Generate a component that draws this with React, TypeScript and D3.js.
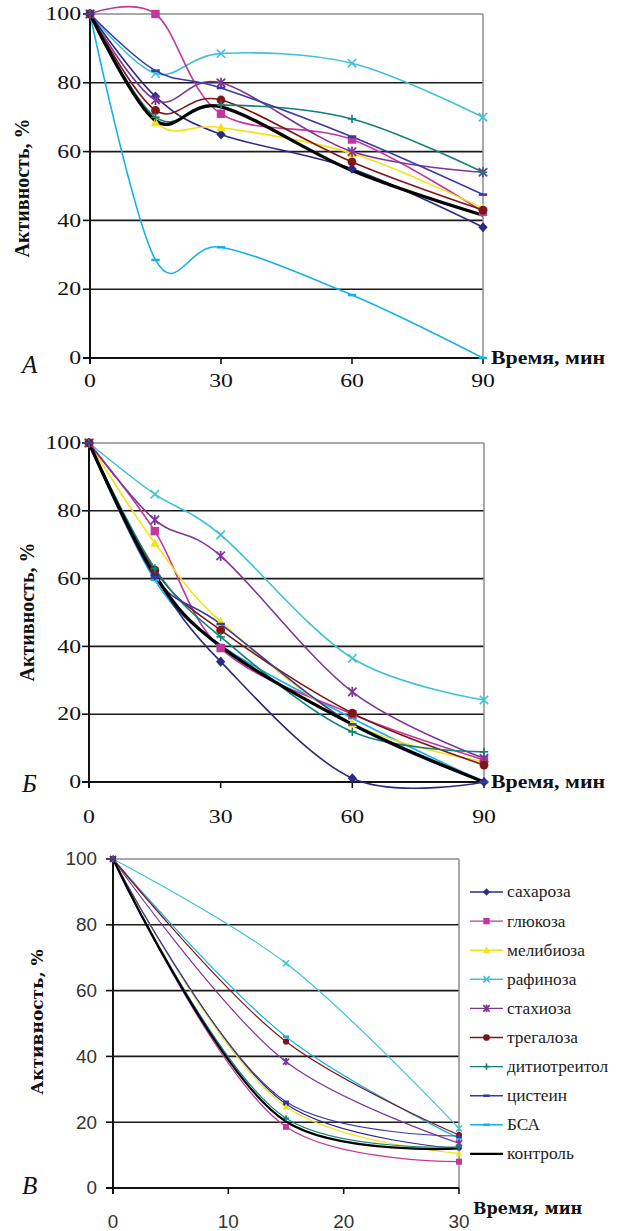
import React from 'react';
import * as d3 from 'd3';

// ---------- data ----------
const seriesNames = ['сахароза', 'глюкоза', 'мелибиоза', 'рафиноза', 'стахиоза', 'трегалоза', 'дитиотреитол', 'цистеин', 'БСА', 'контроль'];
const seriesColors = ['#2b2a82', '#c2379e', '#f2e21a', '#3fc0d8', '#7f3596', '#7d1717', '#108078', '#3a3aa6', '#16b0ea', '#000000'];
const seriesMarkers = ['diamond', 'square', 'triangle', 'cross', 'star', 'circle', 'plus', 'dash', 'dash', 'none'];

const timesAB = [0, 15, 30, 60, 90];
const timesC = [0, 15, 30];
const xTicksAB = [0, 30, 60, 90];
const xTicksC = [0, 10, 20, 30];
const yTicks = [0, 20, 40, 60, 80, 100];

const valuesA = [
  [100, 76, 65, 55, 38],
  [100, 100, 71, 63.5, 42.5],
  [100, 68.5, 67, 59.5, 43.5],
  [100, 82.7, 88.5, 85.7, 70],
  [100, 75, 80, 60, 54],
  [100, 72, 75, 57, 43],
  [100, 70, 73.5, 69.5, 54],
  [100, 83.5, 78.5, 64.3, 47.5],
  [100, 28.5, 32.2, 18.3, 0],
  [100, 69, 73, 54.5, 41.5],
];
const valuesB = [
  [100, 61, 35.5, 1.1, 0],
  [100, 74, 39.5, 20, 6.5],
  [100, 70.5, 47.3, 17.3, 6],
  [100, 84.9, 72.9, 36.5, 24.2],
  [100, 77.3, 66.7, 26.6, 7],
  [100, 62.5, 44.8, 20.3, 5],
  [100, 63, 42.8, 14.8, 8.9],
  [100, 60.5, 46.6, 17, 0],
  [100, 59.6, 40.4, 18.8, 0],
  [100, 61, 40, 17, 0],
];
const valuesC = [
  [100, 25.5, 12],
  [100, 18.6, 8],
  [100, 24.7, 10.5],
  [100, 68.3, 18.1],
  [100, 38.4, 13.6],
  [100, 44.5, 16.1],
  [100, 21.2, 12.5],
  [100, 26.2, 15.8],
  [100, 46, 15.1],
  [100, 20.2, 12],
];

const xTitle = 'Время, мин';
const yTitle = 'Активность, %';
const panelLetters = ['А', 'Б', 'В'];

// ---------- layout ----------
const W = 619;
const H = 1231;

const SERIF = '"Liberation Serif", "Times New Roman", serif';
const SANS = '"Liberation Sans", Arial, sans-serif';
const HEAVY = '"DejaVu Serif", serif';

const layouts = [
  {
    left: 90, right: 483, top: 14, bottom: 358,
    xLabelDy: 23, yLabelX: 22, yLabelY: 188, letterY: 373, titleX: 491, titleY: 358,
    tickFont: SERIF, tickSize: 19, tickSx: 1.25, tickColor: '#111', yTickRight: 81,
    yTitleFont: SERIF, yTitleSize: 20, xTitleFont: SERIF, xTitleSize: 19, xTitleSx: 1.15,
    lw: 1.6, ctrlW: 3.2, ms: 4.2, alpha: 0,
  },
  {
    left: 89, right: 484, top: 443, bottom: 782,
    xLabelDy: 35, yLabelX: 27, yLabelY: 612, letterY: 792, titleX: 491, titleY: 782,
    tickFont: SERIF, tickSize: 19, tickSx: 1.25, tickColor: '#111', yTickRight: 81,
    yTitleFont: SERIF, yTitleSize: 20, xTitleFont: SERIF, xTitleSize: 19, xTitleSx: 1.15,
    lw: 1.6, ctrlW: 3.2, ms: 4.2, alpha: 0,
  },
  {
    left: 113, right: 459, top: 859, bottom: 1188,
    xLabelDy: 34, yLabelX: 37, yLabelY: 1022, letterY: 1194, titleX: 473, titleY: 1208,
    tickFont: SANS, tickSize: 18, tickSx: 1.05, tickColor: '#333', yTickRight: 97,
    yTitleFont: HEAVY, yTitleSize: 17, xTitleFont: HEAVY, xTitleSize: 16, xTitleSx: 1.0,
    lw: 1.2, ctrlW: 2.2, ms: 3, alpha: 0.5,
  },
];

function Marker({ type, x, y, color, s }: { type: string; x: number; y: number; color: string; s: number }) {
  switch (type) {
    case 'diamond':
      return <path d={`M${x},${y - s * 1.2}L${x + s * 1.1},${y}L${x},${y + s * 1.2}L${x - s * 1.1},${y}Z`} fill={color} />;
    case 'square':
      return <rect x={x - s} y={y - s} width={2 * s} height={2 * s} fill={color} />;
    case 'triangle':
      return <path d={`M${x},${y - s * 1.2}L${x + s * 1.1},${y + s * 0.9}L${x - s * 1.1},${y + s * 0.9}Z`} fill={color} />;
    case 'cross':
      return (
        <g stroke={color} strokeWidth={1.6}>
          <line x1={x - s} y1={y - s} x2={x + s} y2={y + s} />
          <line x1={x - s} y1={y + s} x2={x + s} y2={y - s} />
        </g>
      );
    case 'star':
      return (
        <g stroke={color} strokeWidth={1.8}>
          <line x1={x - s} y1={y - s} x2={x + s} y2={y + s} />
          <line x1={x - s} y1={y + s} x2={x + s} y2={y - s} />
          <line x1={x} y1={y - s * 1.2} x2={x} y2={y + s * 1.2} />
        </g>
      );
    case 'circle':
      return <circle cx={x} cy={y} r={s * 1.05} fill={color} />;
    case 'plus':
      return (
        <g stroke={color} strokeWidth={1.6}>
          <line x1={x - s} y1={y} x2={x + s} y2={y} />
          <line x1={x} y1={y - s} x2={x} y2={y + s} />
        </g>
      );
    case 'dash':
      return <line x1={x - s} y1={y} x2={x + s} y2={y} stroke={color} strokeWidth={2.6} />;
    default:
      return null;
  }
}

function SText({ x, y, sx = 1, anchor = 'start', font, size, weight = 'normal', italic = false, color = '#111', rotate = 0, children }: any) {
  return (
    <text
      transform={`translate(${x},${y}) rotate(${rotate}) scale(${sx},1)`}
      textAnchor={anchor}
      dominantBaseline="central"
      fontFamily={font}
      fontSize={size}
      fontWeight={weight}
      fontStyle={italic ? 'italic' : 'normal'}
      fill={color}
    >
      {children}
    </text>
  );
}

function Panel({ times, values, xTicks, L, letter }: any) {
  const x = d3.scaleLinear().domain([0, d3.max(xTicks) as number]).range([L.left, L.right]);
  const y = d3.scaleLinear().domain([0, 100]).range([L.bottom, L.top]);
  const line = d3
    .line<number>()
    .x((_, i) => x(times[i]))
    .y((d) => y(d))
    .curve(d3.curveCatmullRom.alpha(L.alpha));

  const order = [8, 3, 0, 1, 2, 4, 5, 6, 7, 9];

  return (
    <g>
      {/* grid */}
      {yTicks.filter((t) => t > 0 && t < 100).map((t) => (
        <line key={'g' + t} x1={L.left} x2={L.right} y1={y(t)} y2={y(t)} stroke="#1a1a1a" strokeWidth={1.6} />
      ))}
      <line x1={L.left} x2={L.right} y1={y(100)} y2={y(100)} stroke="#8c8c8c" strokeWidth={1.5} />
      <line x1={L.right} x2={L.right} y1={y(100)} y2={y(0)} stroke="#8c8c8c" strokeWidth={1.5} />
      {/* axes */}
      <line x1={L.left} x2={L.left} y1={y(100)} y2={y(0) + 6} stroke="#111" strokeWidth={2} />
      <line x1={L.left - 7} x2={L.right} y1={y(0)} y2={y(0)} stroke="#111" strokeWidth={2} />
      {yTicks.map((t) => (
        <line key={'yt' + t} x1={L.left - 7} x2={L.left} y1={y(t)} y2={y(t)} stroke="#111" strokeWidth={1.6} />
      ))}
      {xTicks.map((t: number) => (
        <line key={'xt' + t} x1={x(t)} x2={x(t)} y1={y(0)} y2={y(0) + 6} stroke="#111" strokeWidth={1.6} />
      ))}
      {/* tick labels */}
      {yTicks.map((t) => (
        <SText key={'yl' + t} x={L.yTickRight} y={y(t)} anchor="end" font={L.tickFont} size={L.tickSize} sx={L.tickSx} color={L.tickColor}>
          {t}
        </SText>
      ))}
      {xTicks.map((t: number) => (
        <SText key={'xl' + t} x={x(t)} y={y(0) + L.xLabelDy} anchor="middle" font={L.tickFont} size={L.tickSize} sx={L.tickSx} color={L.tickColor}>
          {t}
        </SText>
      ))}
      {/* titles */}
      <SText x={L.yLabelX} y={L.yLabelY} anchor="middle" rotate={-90} font={L.yTitleFont} size={L.yTitleSize} weight="bold">
        {yTitle}
      </SText>
      <SText x={L.titleX} y={L.titleY} font={L.xTitleFont} size={L.xTitleSize} sx={L.xTitleSx} weight="bold">
        {xTitle}
      </SText>
      <text x={22} y={L.letterY} fontFamily={SERIF} fontStyle="italic" fontSize={25} fill="#111">
        {letter}
      </text>
      {/* series */}
      {order.map((si) => (
        <path
          key={'s' + si}
          d={line(values[si]) || ''}
          fill="none"
          stroke={seriesColors[si]}
          strokeWidth={si === 9 ? L.ctrlW : L.lw}
        />
      ))}
      {order.map((si) => (
        <g key={'m' + si}>
          {values[si].map((v: number, i: number) => (
            <Marker key={i} type={seriesMarkers[si]} x={x(times[i])} y={y(v)} color={seriesColors[si]} s={L.ms} />
          ))}
        </g>
      ))}
    </g>
  );
}

function Legend() {
  const x0 = 470;
  const x1 = 503;
  const y0 = 892;
  const dy = 29.1;
  return (
    <g>
      {seriesNames.map((n, i) => {
        const yy = y0 + i * dy;
        return (
          <g key={n}>
            <line x1={x0} x2={x1} y1={yy} y2={yy} stroke={seriesColors[i]} strokeWidth={i === 9 ? 2.4 : 1.4} />
            <Marker type={seriesMarkers[i]} x={(x0 + x1) / 2} y={yy} color={seriesColors[i]} s={3.2} />
            <SText x={x1 + 4} y={yy} font={SERIF} size={17} sx={1.02} color="#222">
              {n}
            </SText>
          </g>
        );
      })}
    </g>
  );
}

export default function App() {
  return (
    <svg
      width={W}
      height={H}
      viewBox={`0 0 ${W} ${H}`}
      style={{ position: 'absolute', left: 0, top: 0, background: '#fff' }}
    >
      <rect width={W} height={H} fill="#fff" />
      <Panel times={timesAB} values={valuesA} xTicks={xTicksAB} L={layouts[0]} letter={panelLetters[0]} />
      <Panel times={timesAB} values={valuesB} xTicks={xTicksAB} L={layouts[1]} letter={panelLetters[1]} />
      <Panel times={timesC} values={valuesC} xTicks={xTicksC} L={layouts[2]} letter={panelLetters[2]} />
      <Legend />
    </svg>
  );
}
